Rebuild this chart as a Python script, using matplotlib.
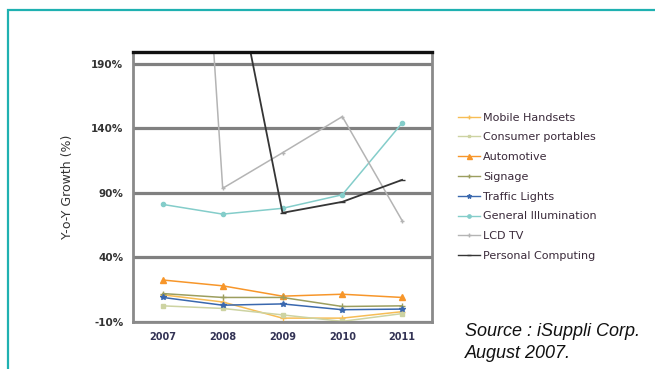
import matplotlib.pyplot as plt
from matplotlib.patches import Rectangle
from matplotlib.lines import Line2D

# Year-on-year growth forecast by application
years = ['2007', '2008', '2009', '2010', '2011']
mobile_handsets = [11, 5.5, -7, -7, -2]
consumer_portables = [2.5, 0.5, -4.5, -9.5, -3.5]
automotive = [22.5, 18, 10, 11.5, 9]
signage = [12, 9, 9, 2, 2.5]
traffic_lights = [9, 3, 4, -0.5, 0]
general_illumination = [81, 73.5, 78, 88.5, 144]
lcd_tv = [800, 93.5, 121, 149, 68.5]
personal_computing = [300, 307, 74.5, 83, 100]

series = [
    ('Mobile Handsets', mobile_handsets, '#f7bd55', '+', 4),
    ('Consumer portables', consumer_portables, '#cdd3a2', 's', 2.5),
    ('Automotive', automotive, '#f7962a', '^', 4.5),
    ('Signage', signage, '#9c9e5e', '+', 4),
    ('Traffic Lights', traffic_lights, '#3a68ae', '*', 4),
    ('General Illumination', general_illumination, '#84cdca', 'o', 3),
    ('LCD TV', lcd_tv, '#b4b4b4', '+', 3),
    ('Personal Computing', personal_computing, '#353535', '_', 4),
]

fig = plt.figure(figsize=(6.55, 3.69), dpi=100)
fig.patches.append(Rectangle((8 / 655, -0.1), 1.2, 1 - 10 / 369 + 0.1,
                             transform=fig.transFigure, fill=False,
                             edgecolor='#1fb1b1', linewidth=1.6))

ax = fig.add_axes([133 / 655, 1 - 322 / 369, 299 / 655, 270 / 369])
x = range(len(years))
for name, vals, color, marker, ms in series:
    lw = 1.3 if name == 'Personal Computing' else 1.1
    ax.plot(x, vals, color=color, marker=marker, markersize=ms, linewidth=lw,
            markeredgewidth=1, clip_on=True)

ax.set_xlim(-0.5, 4.5)
ax.set_ylim(-10, 199)
ax.set_xticks(list(x))
ax.set_xticklabels(years, fontsize=7, color='#333355', fontweight='bold')
ax.set_yticks([-10, 40, 90, 140, 190])
ax.set_yticklabels(['-10%', '40%', '90%', '140%', '190%'], fontsize=7.5,
                   color='#333333', fontweight='bold')
ax.tick_params(length=0, pad=7)
ax.yaxis.grid(True, color='#808080', linewidth=2.3)
ax.set_axisbelow(True)
for side in ['left', 'right', 'bottom']:
    ax.spines[side].set_color('#8a8a8a')
    ax.spines[side].set_linewidth(2)
ax.spines['top'].set_color('#111111')
ax.spines['top'].set_linewidth(2.4)
ax.set_ylabel('Y-o-Y Growth (%)', fontsize=9, color='#333333', labelpad=12)

handles = [Line2D([], [], color=c, marker=m, markersize=ms * 0.8, linewidth=1)
           for _, _, c, m, ms in series]
fig.legend(handles, [s[0] for s in series], loc='upper left',
           bbox_to_anchor=(452 / 655, 1 - 107 / 369), frameon=False,
           fontsize=8, labelcolor='#3a2a3a', handlelength=2.0,
           handletextpad=0.3, labelspacing=0.88, borderpad=0)

fig.text(465 / 655, 1 - 331 / 369, 'Source : iSuppli Corp.', fontsize=13,
         style='italic', family='Liberation Sans', va='center', color='#111111')
fig.text(465 / 655, 1 - 354 / 369, 'August 2007.', fontsize=13,
         style='italic', family='Liberation Sans', va='center', color='#111111')

fig.savefig('out.png', dpi=100)
